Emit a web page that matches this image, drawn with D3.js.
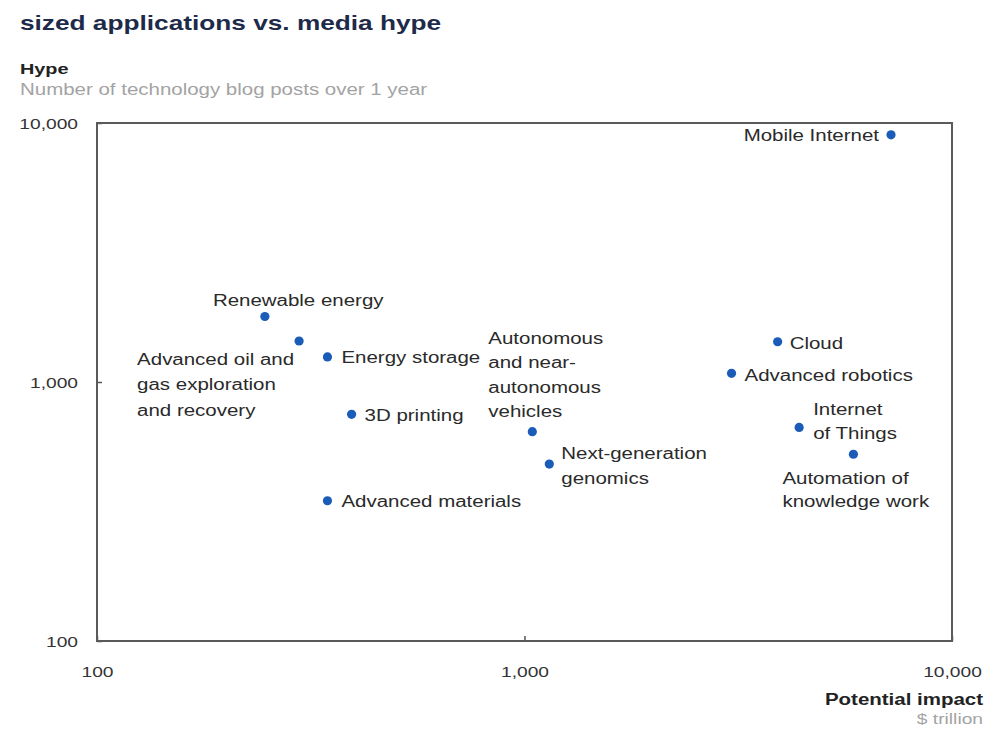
<!DOCTYPE html>
<html>
<head>
<meta charset="utf-8">
<script src="https://cdn.jsdelivr.net/npm/d3@7"></script>
<style>
  body { margin: 0; background: #fff; }
  svg { display: block; font-family: "Liberation Sans", Arial, sans-serif; }
</style>
</head>
<body>
<script>
'use strict';

// technologies, potential impact ($ trillion) and hype (blog posts / year)
const techs = ['Mobile Internet', 'Renewable energy', 'Advanced oil and gas exploration and recovery',
  'Energy storage', '3D printing', 'Advanced materials', 'Autonomous and near-autonomous vehicles',
  'Next-generation genomics', 'Cloud', 'Advanced robotics', 'Internet of Things',
  'Automation of knowledge work'];
const impact = [7200, 247, 297, 346, 394, 346, 1043, 1143, 3910, 3050, 4390, 5880];
const hype = [9000, 1790, 1440, 1250, 750, 348, 643, 482, 1430, 1080, 668, 526];
const labelLines = [
  ['Mobile Internet'],
  ['Renewable energy'],
  ['Advanced oil and', 'gas exploration', 'and recovery'],
  ['Energy storage'],
  ['3D printing'],
  ['Advanced materials'],
  ['Autonomous', 'and near-', 'autonomous', 'vehicles'],
  ['Next-generation', 'genomics'],
  ['Cloud'],
  ['Advanced robotics'],
  ['Internet', 'of Things'],
  ['Automation of', 'knowledge work']
];
const xTicks = [100, 1000, 10000];
const yTicks = [100, 1000, 10000];

// label placement relative to the dot: dx, dy (first baseline), line height, anchor
const place = [
  [-12, 6, 25, 'end'],
  [-52, -11, 25, 'start'],
  [-162, 24, 25.5, 'start'],
  [14, 6, 25, 'start'],
  [13, 7, 25, 'start'],
  [14, 6, 25, 'start'],
  [-44, -88, 24.5, 'start'],
  [12, -5, 25, 'start'],
  [12, 7, 25, 'start'],
  [13, 8, 25, 'start'],
  [14, -12, 24, 'start'],
  [-71, 30, 23, 'start']
];

const SX = 1.28; // the source picture is stretched sideways
const W = 1007, H = 735;
const margin = {top: 123, right: 55, bottom: 94, left: 97},
    width = W - margin.left - margin.right,
    height = H - margin.top - margin.bottom;

const svg = d3.select('body').append('svg')
    .attr('width', W)
    .attr('height', H);

function wideText(sel, x, y, txt) {
  return sel.append('text')
      .attr('transform', 'translate(' + x + ',' + y + ') scale(' + SX + ',1)')
      .text(txt);
}

// header
wideText(svg, 20, 30, 'sized applications vs. media hype')
    .attr('font-size', 20.5).attr('font-weight', 'bold').attr('fill', '#1e2a4a');
wideText(svg, 20, 74, 'Hype')
    .attr('font-size', 15.5).attr('font-weight', 'bold').attr('fill', '#222');
wideText(svg, 20, 95, 'Number of technology blog posts over 1 year')
    .attr('font-size', 16).attr('fill', '#a3a3a3');

// x axis title
wideText(svg, 983, 705, 'Potential impact')
    .attr('font-size', 16).attr('font-weight', 'bold').attr('fill', '#222')
    .attr('text-anchor', 'end');
wideText(svg, 983, 724, '$ trillion')
    .attr('font-size', 15).attr('fill', '#a3a3a3')
    .attr('text-anchor', 'end');

const g = svg.append('g')
    .attr('transform', 'translate(' + margin.left + ',' + margin.top + ')');

const x = d3.scaleLog().domain([100, 10000]).range([0, width]);
const y = d3.scaleLog().domain([100, 10000]).range([height, 0]);

// axes, ticks point into the plot
const xAxis = g.append('g')
    .attr('transform', 'translate(0,' + height + ')')
    .call(d3.axisBottom(x).tickValues(xTicks).tickFormat(d3.format(','))
      .tickSizeInner(-5).tickSizeOuter(0).tickPadding(25));
const yAxis = g.append('g')
    .call(d3.axisLeft(y).tickValues(yTicks).tickFormat(d3.format(','))
      .tickSizeInner(-5).tickSizeOuter(0).tickPadding(19));

[xAxis, yAxis].forEach(function (ax) {
  ax.select('.domain').remove();
  ax.selectAll('line').attr('stroke', '#555').attr('stroke-width', 1.5);
  ax.selectAll('text')
      .attr('font-family', '"Liberation Sans", Arial, sans-serif')
      .attr('font-size', 15)
      .attr('fill', '#333');
});
xAxis.selectAll('text')
    .attr('transform', function () { return 'translate(0,' + d3.select(this).attr('y') + ') scale(' + SX + ',1)'; })
    .attr('y', 0);
yAxis.selectAll('text')
    .attr('transform', function () { return 'translate(' + d3.select(this).attr('x') + ',0) scale(' + SX + ',1)'; })
    .attr('x', 0)
    .attr('dy', '0.35em');

// frame
g.append('rect')
    .attr('width', width)
    .attr('height', height)
    .attr('fill', 'none')
    .attr('stroke', '#5a5a5a')
    .attr('stroke-width', 2);

// points
g.selectAll('circle')
    .data(techs).enter()
    .append('circle')
    .attr('cx', function (d, i) { return x(impact[i]); })
    .attr('cy', function (d, i) { return y(hype[i]); })
    .attr('r', 4.6)
    .attr('fill', '#1a5cb8');

// labels
techs.forEach(function (t, i) {
  const p = place[i];
  const px = x(impact[i]) + p[0], py = y(hype[i]) + p[1];
  labelLines[i].forEach(function (line, j) {
    wideText(g, px, py + j * p[2], line)
        .attr('font-size', 16)
        .attr('fill', '#2a2a2a')
        .attr('text-anchor', p[3]);
  });
});
</script>
</body>
</html>
